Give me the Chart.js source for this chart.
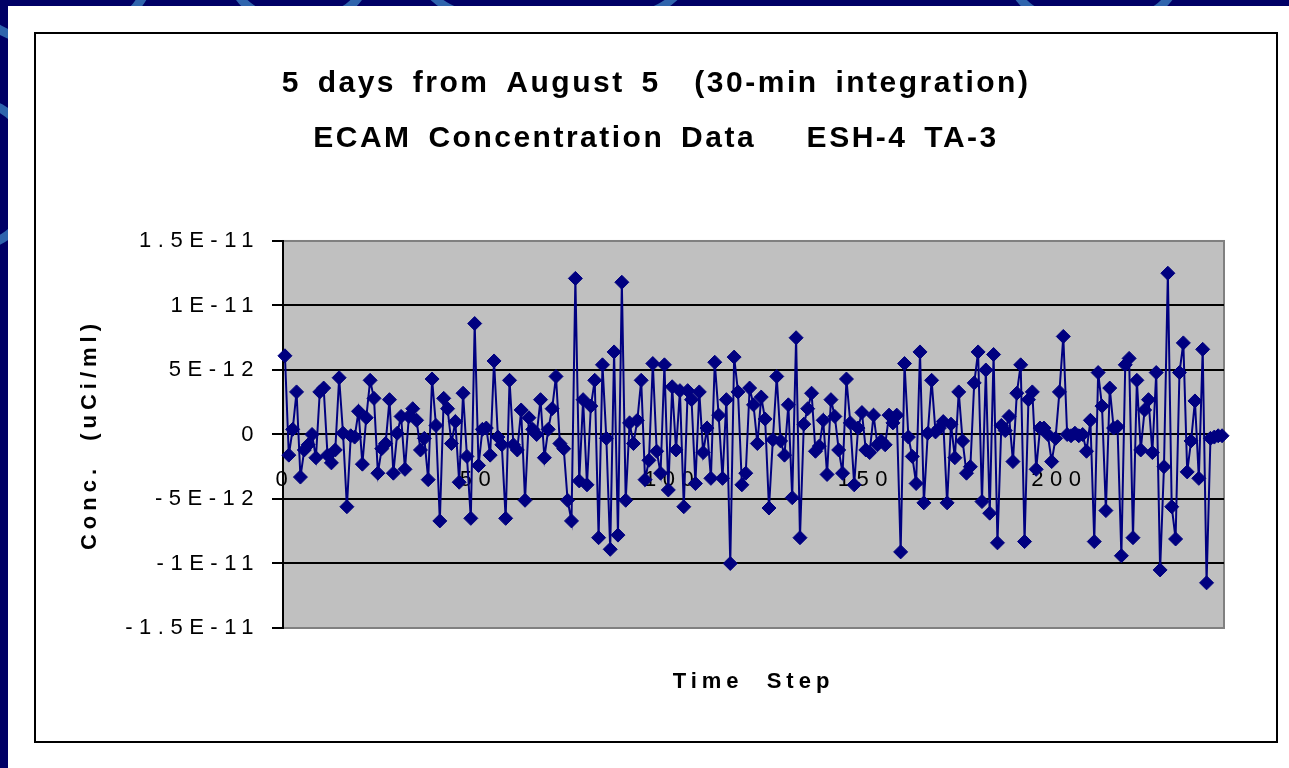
<!DOCTYPE html>
<html>
<head>
<meta charset="utf-8">
<title>ECAM Concentration Data</title>
<script src="https://cdn.jsdelivr.net/npm/chart.js"></script>
<style>
	body { margin: 0; width: 1289px; height: 768px; background: #000066; overflow: hidden; position: relative; font-family: "Liberation Sans", Arial, sans-serif; }
	.swoosh { position: absolute; border: 9px solid #2f64ad; border-radius: 50%; }
	#panel { position: absolute; left: 8px; top: 6px; width: 1281px; height: 762px; background: #fff; }
	#frame { position: absolute; left: 34px; top: 32px; width: 1240px; height: 707px; border: 2px solid #000; background: #fff; }
</style>
</head>
<body>
<div class="swoosh" style="left:-50px; top:-130px; width:190px; height:160px;"></div>
<div class="swoosh" style="left:230px; top:-62px; width:120px; height:70px;"></div>
<div class="swoosh" style="left:420px; top:-75px; width:250px; height:90px;"></div>
<div class="swoosh" style="left:1010px; top:-64px; width:150px; height:76px;"></div>
<div class="swoosh" style="left:-70px; top:100px; width:90px; height:130px;"></div>
<div id="panel"></div>
<div id="frame"><canvas id="mycanvas"></canvas></div>

<script>
	// concentration readings, in units of 1E-12 uCi/ml, one per 30-min step
	var concE12 = [
		6.1, -1.6, 0.4, 3.3, -3.3, -1.2, -0.8, 0.0, -1.8, 3.3, 3.6, -1.6, -2.2, -1.2, 4.4, 0.1, -5.6, -0.1, -0.2, 1.8,
		-2.3, 1.3, 4.2, 2.8, -3.0, -1.1, -0.7, 2.7, -3.0, 0.1, 1.4, -2.7, 1.4, 2.0, 1.1, -1.2, -0.3, -3.5, 4.3, 0.7,
		-6.7, 2.8, 2.0, -0.7, 1.0, -3.7, 3.2, -1.7, -6.5, 8.6, -2.4, 0.4, 0.5, -1.6, 5.7, -0.2, -0.8, -6.5, 4.2, -0.8,
		-1.2, 1.9, -5.1, 1.3, 0.4, 0.0, 2.7, -1.8, 0.4, 2.0, 4.5, -0.7, -1.1, -5.1, -6.7, 12.1, -3.6, 2.7, -3.9, 2.2,
		4.2, -8.0, 5.4, -0.3, -8.9, 6.4, -7.8, 11.8, -5.1, 0.9, -0.7, 1.1, 4.2, -3.5, -2.0, 5.5, -1.3, -3.0, 5.4, -4.3,
		3.7, -1.2, 3.4, -5.6, 3.4, 2.7, -3.8, 3.3, -1.4, 0.5, -3.4, 5.6, 1.5, -3.4, 2.7, -10.0, 6.0, 3.3, -3.9, -3.0,
		3.6, 2.3, -0.7, 2.9, 1.2, -5.7, -0.4, 4.5, -0.5, -1.6, 2.3, -4.9, 7.5, -8.0, 0.8, 2.0, 3.2, -1.3, -0.9, 1.1,
		-3.1, 2.7, 1.4, -1.2, -3.0, 4.3, 0.9, -3.9, 0.5, 1.7, -1.2, -1.4, 1.5, -0.8, -0.5, -0.8, 1.5, 0.9, 1.5, -9.1,
		5.5, -0.2, -1.7, -3.8, 6.4, -5.3, 0.1, 4.2, 0.2, 0.5, 1.0, -5.3, 0.8, -1.8, 3.3, -0.5, -3.0, -2.5, 4.0, 6.4,
		-5.2, 5.0, -6.1, 6.2, -8.4, 0.7, 0.3, 1.4, -2.1, 3.2, 5.4, -8.3, 2.7, 3.3, -2.7, 0.5, 0.5, 0.0, -2.1, -0.3,
		3.3, 7.6, 0.0, -0.1, 0.1, -0.1, 0.0, -1.3, 1.1, -8.3, 4.8, 2.2, -5.9, 3.6, 0.5, 0.6, -9.4, 5.4, 5.9, -8.0,
		4.2, -1.2, 1.9, 2.7, -1.4, 4.8, -10.5, -2.5, 12.5, -5.6, -8.1, 4.8, 7.1, -2.9, -0.5, 2.6, -3.4, 6.6, -11.5, -0.3,
		-0.2, -0.1, -0.1
	];

	var yTickValues = [-15, -10, -5, 0, 5, 10, 15];
	var yTickLabels = ['-1.5E-11', '-1E-11', '-5E-12', '0', '5E-12', '1E-11', '1.5E-11'];
	var xTickLabels = ['0', '50', '100', '150', '200'];
	var titleLines = ['5 days from August 5  (30-min integration)', 'ECAM Concentration Data   ESH-4 TA-3'];

	var timeSteps = [];
	for (var i = 0; i < concE12.length; i++) {
		timeSteps.push(String(i));
	}

	var FONT = 'Liberation Sans';

	// grey plot area + Excel-like wide letter spacing on all text
	var sheetLook = {
		id: 'sheetLook',
		beforeDraw: function(chart) {
			var c = chart.ctx;
			if (!c._spaced) {
				var fill = c.fillText;
				c.fillText = function(text, x, y, w) {
					var f = this.font;
					if (f.indexOf('30px') >= 0) { this.letterSpacing = '2.5px'; this.wordSpacing = '6px'; }
					else if (f.indexOf('bold') >= 0) { this.letterSpacing = '5px'; this.wordSpacing = '12px'; }
					else { this.letterSpacing = '6.5px'; this.wordSpacing = '0px'; }
					fill.call(this, text, x, y, w);
					this.letterSpacing = '0px';
					this.wordSpacing = '0px';
				};
				c._spaced = true;
			}
			var a = chart.chartArea;
			c.save();
			c.fillStyle = '#c0c0c0';
			c.fillRect(a.left, a.top, a.right - a.left, a.bottom - a.top);
			c.strokeStyle = '#808080';
			c.lineWidth = 2;
			c.strokeRect(a.left, a.top, a.right - a.left, a.bottom - a.top);
			c.restore();
		}
	};

	var ctx = document.getElementById('mycanvas');

	var chart = new Chart(ctx, {
		type: 'line',
		data: {
			labels: timeSteps,
			datasets: [{
				label: 'Conc.',
				data: concE12,
				borderColor: '#000080',
				backgroundColor: '#000080',
				borderWidth: 2,
				tension: 0,
				fill: false,
				pointStyle: 'rectRot',
				pointRadius: 7,
				pointBorderWidth: 1,
				pointBackgroundColor: '#000080',
				pointBorderColor: '#000080'
			}]
		},
		options: {
			responsive: true,
			maintainAspectRatio: false,
			animation: false,
			layout: { padding: 0 },
			plugins: {
				legend: { display: false },
				tooltip: { enabled: false },
				title: {
					display: true,
					text: titleLines,
					color: '#000',
					font: { family: FONT, size: 30, weight: 'bold', lineHeight: 1.833 },
					padding: { top: 22.5, bottom: 74.5 }
				}
			},
			scales: {
				x: {
					type: 'category',
					position: { y: 0 },
					offset: true,
					grid: { display: false, drawTicks: false },
					border: { display: false },
					ticks: {
						autoSkip: false,
						maxRotation: 0,
						minRotation: 0,
						padding: 32,
						color: '#000',
						font: { family: FONT, size: 22 },
						callback: function(value, index) {
							var lab = this.getLabelForValue(value);
							return xTickLabels.indexOf(lab) >= 0 ? lab : null;
						}
					}
				},
				xTitle: {
					type: 'linear',
					position: 'bottom',
					grid: { display: false, drawTicks: false },
					border: { display: false },
					ticks: { display: false },
					title: {
						display: true,
						text: 'Time Step',
						color: '#000',
						font: { family: FONT, size: 22, weight: 'bold' },
						padding: { top: 0, bottom: 46 }
					},
					afterFit: function(scale) { scale.height = 113; }
				},
				y: {
					min: -15,
					max: 15,
					grid: {
						color: function(c) { return Math.abs(c.tick.value) === 15 ? '#808080' : '#000'; },
						lineWidth: 2,
						tickColor: '#000',
						tickLength: 11,
						tickWidth: 2
					},
					border: { display: true, color: '#000', width: 2 },
					ticks: {
						stepSize: 5,
						padding: 12,
						color: '#000',
						font: { family: FONT, size: 22 },
						callback: function(value) {
							return yTickLabels[yTickValues.indexOf(value)];
						}
					},
					title: {
						display: true,
						text: 'Conc. (uCi/ml)',
						color: '#000',
						font: { family: FONT, size: 22, weight: 'bold' },
						padding: { top: 41, bottom: 0 }
					},
					afterFit: function(scale) { scale.width = 247; }
				},
				yPad: {
					axis: 'y',
					position: 'right',
					grid: { display: false, drawTicks: false },
					border: { display: false },
					ticks: { display: false },
					afterFit: function(scale) { scale.width = 52; }
				}
			}
		},
		plugins: [sheetLook]
	});
</script>
</body>
</html>
